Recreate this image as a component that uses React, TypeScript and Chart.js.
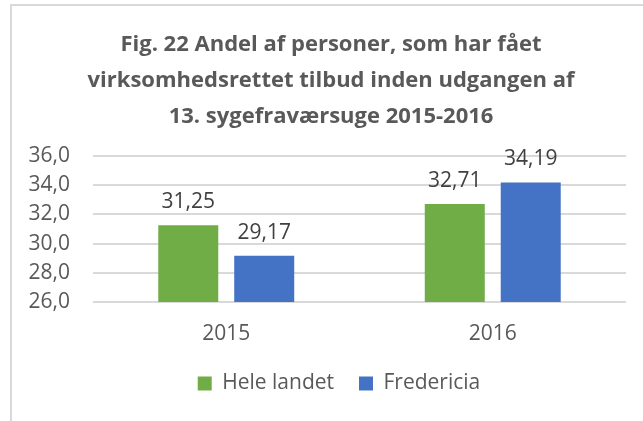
import React, { useEffect, useRef } from "react";
import { Chart, registerables } from "chart.js";

Chart.register(...registerables);

const categories = ["2015", "2016"];
const seriesNames = ["Hele landet", "Fredericia"];
const heleLandet = [31.25, 32.71];
const fredericia = [29.17, 34.19];
const titleLines = [
  "Fig. 22 Andel af personer, som har fået",
  "virksomhedsrettet tilbud inden udgangen af",
  "13. sygefraværsuge 2015-2016",
];
const yMin = 26;
const yMax = 36;
const yStep = 2;

const FONT = "'Open Sans', 'DejaVu Sans', sans-serif";

const fmt = (v: number, d: number) => v.toFixed(d).replace(".", ",");

const borderPlugin = {
  id: "borderPlugin",
  afterLayout(chart: any) {
    if (chart.titleBlock) {
      chart.titleBlock.left += 12;
      chart.titleBlock.right += 12;
    }
    if (chart.legend) {
      chart.legend.left += 20;
      chart.legend.right += 20;
    }
  },
  beforeDraw(chart: any) {
    const ctx = chart.ctx;
    ctx.save();
    ctx.fillStyle = "#ffffff";
    ctx.fillRect(0, 0, chart.width, chart.height);
    ctx.strokeStyle = "#d9d9d9";
    ctx.lineWidth = 2;
    ctx.beginPath();
    ctx.moveTo(11, chart.height);
    ctx.lineTo(11, 5);
    ctx.lineTo(chart.width, 5);
    ctx.stroke();
    ctx.restore();
  },
};

const dataLabelPlugin = {
  id: "dataLabelPlugin",
  afterDatasetsDraw(chart: any) {
    const ctx = chart.ctx;
    ctx.save();
    ctx.font = `21px ${FONT}`;
    ctx.fillStyle = "#404040";
    ctx.textAlign = "center";
    ctx.textBaseline = "middle";
    chart.data.datasets.forEach((ds: any, i: number) => {
      const meta = chart.getDatasetMeta(i);
      meta.data.forEach((bar: any, j: number) => {
        ctx.fillText(fmt(ds.data[j], 2), bar.x, bar.y - 23);
      });
    });
    ctx.restore();
  },
};

export default function App() {
  const ref = useRef<HTMLCanvasElement | null>(null);
  useEffect(() => {
    if (!ref.current) return;
    const chart = new Chart(ref.current, {
      type: "bar",
      data: {
        labels: categories,
        datasets: [
          {
            label: seriesNames[0],
            data: heleLandet,
            backgroundColor: "#70AD47",
            categoryPercentage: 0.57,
            barPercentage: 0.79,
          },
          {
            label: seriesNames[1],
            data: fredericia,
            backgroundColor: "#4472C4",
            categoryPercentage: 0.57,
            barPercentage: 0.79,
          },
        ],
      },
      options: {
        responsive: false,
        animation: false,
        devicePixelRatio: 1,
        layout: { padding: { left: 12, right: 17, top: 0, bottom: 17 } },
        plugins: {
          title: {
            display: true,
            text: titleLines,
            color: "#595959",
            font: { family: FONT, size: 22, weight: "bold", lineHeight: 36 / 22 },
            padding: { top: 27, bottom: 21 },
          },
          legend: {
            position: "bottom",
            labels: {
              color: "#595959",
              font: { family: FONT, size: 21 },
              boxWidth: 14,
              boxHeight: 14,
              padding: 25,
            },
          },
          tooltip: { enabled: false },
        },
        scales: {
          x: {
            grid: { display: false, drawTicks: false },
            border: { display: false },
            ticks: { color: "#595959", font: { family: FONT, size: 21 }, padding: 19 },
            afterFit(scale: any) {
              scale.height = 46;
            },
          },
          y: {
            min: yMin,
            max: yMax,
            grid: { color: "#d9d9d9", lineWidth: 2, drawTicks: false },
            border: { display: false },
            ticks: {
              stepSize: yStep,
              color: "#595959",
              font: { family: FONT, size: 21 },
              padding: 23,
              callback: (v: any) => fmt(Number(v), 1),
            },
            afterFit(scale: any) {
              scale.width = 81;
            },
          },
        },
      },
      plugins: [borderPlugin, dataLabelPlugin],
    });
    return () => chart.destroy();
  }, []);
  return (
    <canvas
      ref={ref}
      width={643}
      height={421}
      style={{ position: "fixed", left: 0, top: 0, width: 643, height: 421, display: "block" }}
    />
  );
}
